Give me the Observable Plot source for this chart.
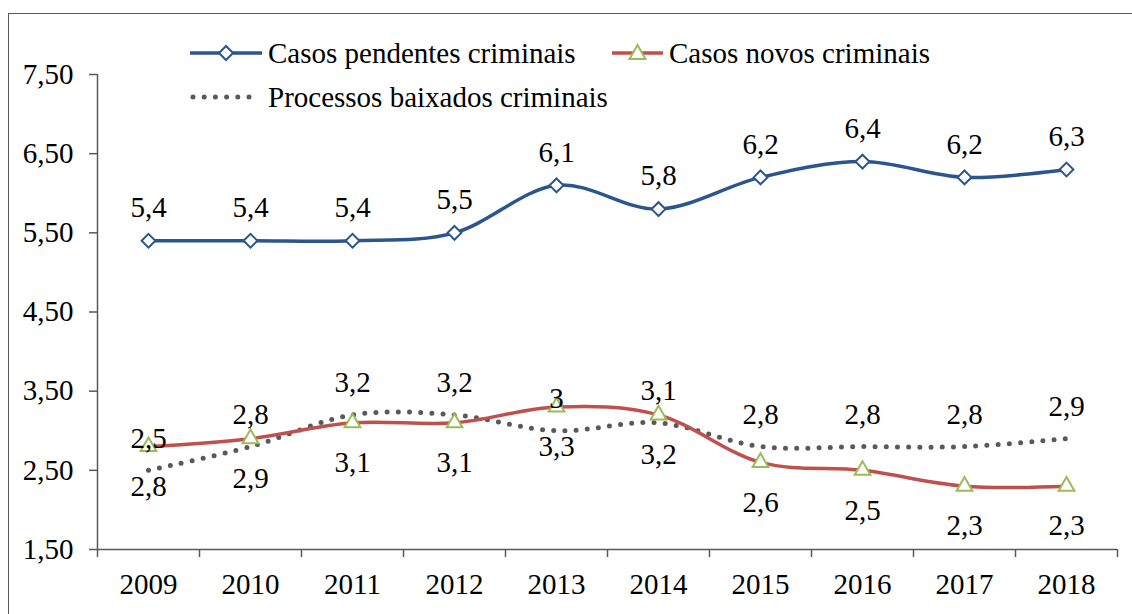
<!DOCTYPE html>
<html>
<head>
<meta charset="utf-8">
<script src="https://cdn.jsdelivr.net/npm/d3@7"></script>
<script src="https://cdn.jsdelivr.net/npm/@observablehq/plot@0.6"></script>
<style>
  html, body { margin: 0; padding: 0; background: #fff; }
  #wrap { position: relative; width: 1132px; height: 614px; overflow: hidden; font-family: "Liberation Serif", "Times New Roman", serif; }
  #frame { position: absolute; left: 8px; top: 13px; width: 1300px; height: 800px; border: 1.5px solid #595959; box-sizing: border-box; }
  #chart { position: absolute; left: 0; top: 0; }
  .leg { position: absolute; display: flex; align-items: center; height: 34px; font-size: 29px; line-height: 34px; color: #000; white-space: nowrap; }
  .leg svg { display: block; margin-right: 6px; }
</style>
</head>
<body>
<div id="wrap">
  <div id="frame"></div>
  <div id="chart"></div>
  <div class="leg" style="left:190px; top:36px;">
    <svg width="72" height="20"><line x1="0" y1="10" x2="72" y2="10" stroke="#2B558F" stroke-width="3.5"/><path d="M36,3 L43,10 L36,17 L29,10 Z" fill="#fff" stroke="#2B558F" stroke-width="2"/></svg>
    <span>Casos pendentes criminais</span>
  </div>
  <div class="leg" style="left:612px; top:36px;">
    <svg width="51" height="20"><line x1="0" y1="10" x2="51" y2="10" stroke="#C0504D" stroke-width="3.5"/><path d="M25.5,2 L33.5,16 L17.5,16 Z" fill="#fff" stroke="#9BBB59" stroke-width="2"/></svg>
    <span>Casos novos criminais</span>
  </div>
  <div class="leg" style="left:190px; top:80px;">
    <svg width="72" height="20"><line x1="3" y1="10" x2="70" y2="10" stroke="#595959" stroke-width="5" stroke-dasharray="0 11.2" stroke-linecap="round"/></svg>
    <span>Processos baixados criminais</span>
  </div>
</div>
<script>
// ---- data ----
const years = [2009, 2010, 2011, 2012, 2013, 2014, 2015, 2016, 2017, 2018];
const pendentes = [5.4, 5.4, 5.4, 5.5, 6.1, 5.8, 6.2, 6.4, 6.2, 6.3];
const novos = [2.8, 2.9, 3.1, 3.1, 3.3, 3.2, 2.6, 2.5, 2.3, 2.3];
const baixados = [2.5, 2.8, 3.2, 3.2, 3.0, 3.1, 2.8, 2.8, 2.8, 2.9];
const yTicks = [1.5, 2.5, 3.5, 4.5, 5.5, 6.5, 7.5];

const rows = (vals) => years.map((year, i) => ({year, v: vals[i]}));
const dPend = rows(pendentes);
const dNov = rows(novos);
const dBai = rows(baixados);
const bounds = [...years.map(y => y - 0.5), years[years.length - 1] + 0.5];
const lab = v => String(v).replace(".", ",");
const fmtY = v => v.toFixed(2).replace(".", ",");

const BLUE = "#2B558F", RED = "#C0504D", GREEN = "#9BBB59", GRAY = "#595959";

const chart = Plot.plot({
  width: 1132,
  height: 614,
  marginLeft: 97,
  marginRight: 15,
  marginTop: 74,
  marginBottom: 65,
  style: {fontFamily: "Liberation Serif, Times New Roman, serif", fontSize: "29px", background: "transparent", color: "#000"},
  x: {type: "linear", domain: [bounds[0], bounds[bounds.length - 1]]},
  y: {domain: [1.5, 7.5]},
  marks: [
    Plot.axisY({ticks: yTicks, tickSize: 8, tickPadding: 16, tickFormat: fmtY, stroke: GRAY, fill: "#000", strokeWidth: 1.5, label: null}),
    Plot.axisX({ticks: bounds, tickSize: 8, tickFormat: () => "", stroke: GRAY, strokeWidth: 1.5, label: null}),
    Plot.axisX({ticks: years, tickSize: 0, tickPadding: 24, tickFormat: d => String(d), fill: "#000", label: null}),
    Plot.ruleX([bounds[0]], {stroke: GRAY, strokeWidth: 1.5}),
    Plot.ruleY([1.5], {stroke: GRAY, strokeWidth: 1.5}),
    // baixados dotted
    Plot.line(dBai, {x: "year", y: "v", curve: "cardinal", stroke: GRAY, strokeWidth: 5, strokeDasharray: "0 11.2", strokeLinecap: "round"}),
    // novos
    Plot.line(dNov, {x: "year", y: "v", curve: "cardinal", stroke: RED, strokeWidth: 3.5}),
    Plot.dot(dNov, {x: "year", y: "v", symbol: "triangle2", r: 7.5, fill: "#fff", stroke: GREEN, strokeWidth: 2}),
    // pendentes
    Plot.line(dPend, {x: "year", y: "v", curve: "cardinal", stroke: BLUE, strokeWidth: 3.5}),
    Plot.dot(dPend, {x: "year", y: "v", symbol: "diamond2", r: 6.2, fill: "#fff", stroke: BLUE, strokeWidth: 2}),
    // labels
    Plot.text(dPend, {x: "year", y: "v", text: d => lab(d.v), dy: -33, fill: "#000"}),
    Plot.text(dBai, {x: "year", y: "v", text: d => lab(d.v), dy: -32, fill: "#000"}),
    Plot.text(dNov, {x: "year", y: "v", text: d => lab(d.v), dy: 40, fill: "#000"})
  ]
});
document.getElementById("chart").appendChild(chart);
</script>
</body>
</html>
